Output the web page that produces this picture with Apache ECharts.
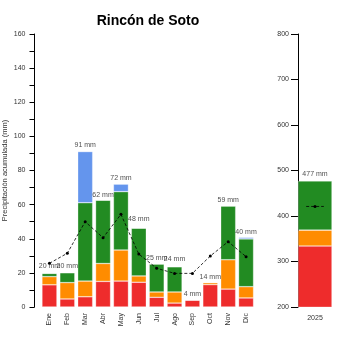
<!DOCTYPE html>
<html>
<head>
<meta charset="utf-8">
<script src="https://cdn.jsdelivr.net/npm/echarts@6/dist/echarts.min.js"></script>
<style>
  html, body { margin: 0; padding: 0; background: #fff; }
  #chart { width: 350px; height: 350px; }
</style>
</head>
<body>
<div id="chart"></div>
<script>
  // datos mensuales (mm)
  const months = ['Ene', 'Feb', 'Mar', 'Abr', 'May', 'Jun', 'Jul', 'Ago', 'Sep', 'Oct', 'Nov', 'Dic'];
  const redPart = [13, 4.7, 6, 15, 15.2, 14.5, 5.7, 2.3, 4.1, 13.1, 10.5, 5.3];
  const orangePart = [4.8, 9.6, 9.2, 10.5, 18.2, 3.7, 3.1, 6.5, 0, 1.2, 17.2, 6.6];
  const greenPart = [1.9, 5.8, 45.9, 37.1, 34.2, 28, 16.4, 14.8, 0, 0, 31.5, 28];
  const bluePart = [0, 0, 30, 0, 4.4, 0, 0, 0, 0, 0, 0, 0.9];
  const totals = [20, 20, 91, 62, 72, 48, 25, 24, 4, 14, 59, 40];
  const meanLine = [25.6, 31.5, 50, 40.6, 54.3, 31, 22.7, 19.7, 19.7, 29.9, 38.3, 29.5];

  // datos anuales
  const years = ['2025'];
  const yearRed = [334];
  const yearOrange = [35];
  const yearGreen = [108];
  const yearTotal = [477];
  const yearMean = [421];

  const colors = { red: '#EE2C2C', orange: '#FF8C00', green: '#228B22', blue: '#6495ED' };
  const txt = '#333';
  const font = 'Liberation Sans';

  let myChart = echarts.init(document.getElementById('chart'));

  function stackBar(name, data, color, xi) {
    return {
      name: name, type: 'bar', stack: 'p' + xi,
      xAxisIndex: xi, yAxisIndex: xi,
      data: data,
      barWidth: xi === 0 ? 15 : '100%',
      itemStyle: { color: color, borderColor: 'rgba(255,255,255,0.5)', borderWidth: 0.6 },
      silent: true
    };
  }

  let option = {
    animation: false,
    backgroundColor: '#fff',
    textStyle: { fontFamily: font },
    title: {
      text: 'Rincón de Soto',
      left: 143, top: 9, textAlign: 'center',
      textStyle: { fontSize: 14, fontWeight: 'bold', color: '#000', fontFamily: font }
    },
    grid: [
      { left: 40.5, width: 214.5, top: 34, height: 273, outerBoundsMode: 'none' },
      { left: 298, width: 34, top: 34, height: 273, outerBoundsMode: 'none' }
    ],
    xAxis: [
      {
        type: 'category', gridIndex: 0, data: months,
        axisLine: { show: false }, axisTick: { show: false },
        axisLabel: { rotate: 90, fontSize: 7, color: txt, margin: 6 }
      },
      {
        type: 'category', gridIndex: 1, data: years,
        axisLine: { show: false }, axisTick: { show: false },
        axisLabel: { fontSize: 7, color: txt, margin: 8 }
      }
    ],
    yAxis: [
      {
        type: 'value', gridIndex: 0, min: 0, max: 160, interval: 10, offset: 6,
        name: 'Precipitación acumulada (mm)', nameLocation: 'middle', nameGap: 26,
        nameRotate: 90, nameMoveOverlap: false,
        nameTextStyle: { fontSize: 7.5, color: txt },
        axisLine: { show: true, lineStyle: { color: '#000', width: 1 } },
        axisTick: { show: true, length: 5, lineStyle: { color: '#000' } },
        axisLabel: {
          fontSize: 7, color: txt, margin: 9,
          formatter: v => (v % 20 === 0 ? String(v) : '')
        },
        splitLine: { show: false }
      },
      {
        type: 'value', gridIndex: 1, min: 200, max: 800, interval: 100,
        axisLine: { show: true, lineStyle: { color: '#000', width: 1 } },
        axisTick: { show: true, length: 7, lineStyle: { color: '#000' } },
        axisLabel: { fontSize: 7, color: txt, margin: 9 },
        splitLine: { show: false }
      }
    ],
    series: [
      stackBar('rojo', redPart, colors.red, 0),
      stackBar('naranja', orangePart, colors.orange, 0),
      stackBar('verde', greenPart, colors.green, 0),
      stackBar('azul', bluePart, colors.blue, 0),
      {
        type: 'line', xAxisIndex: 0, yAxisIndex: 0, data: meanLine,
        symbol: 'circle', symbolSize: 3,
        itemStyle: { color: '#000' },
        lineStyle: { color: '#000', width: 0.8, type: [3, 2] },
        silent: true, z: 5
      },
      {
        type: 'scatter', xAxisIndex: 0, yAxisIndex: 0, data: totals,
        symbolSize: 0,
        label: {
          show: true, position: 'top', distance: 3, fontSize: 7, color: '#222',
          formatter: p => p.value + ' mm'
        },
        silent: true, z: 6
      },
      stackBar('rojo', yearRed, colors.red, 1),
      stackBar('naranja', yearOrange, colors.orange, 1),
      stackBar('verde', yearGreen, colors.green, 1),
      {
        type: 'custom', xAxisIndex: 1, yAxisIndex: 1, data: yearMean,
        renderItem: function (params, api) {
          const p = api.coord([api.value(0), api.value(1)]);
          const half = api.size([1, 0])[0] * 0.26;
          return {
            type: 'group',
            children: [
              {
                type: 'line',
                shape: { x1: p[0] - half, y1: p[1], x2: p[0] + half, y2: p[1] },
                style: { stroke: '#000', lineWidth: 0.8, lineDash: [3, 2] }
              },
              { type: 'circle', shape: { cx: p[0], cy: p[1], r: 1.5 }, style: { fill: '#000' } }
            ]
          };
        },
        encode: { x: 0, y: 1 },
        silent: true, z: 5
      },
      {
        type: 'scatter', xAxisIndex: 1, yAxisIndex: 1, data: yearTotal,
        symbolSize: 0,
        label: {
          show: true, position: 'top', distance: 3, fontSize: 7, color: '#222',
          formatter: p => p.value + ' mm'
        },
        silent: true, z: 6
      }
    ]
  };

  myChart.setOption(option);
</script>
</body>
</html>
